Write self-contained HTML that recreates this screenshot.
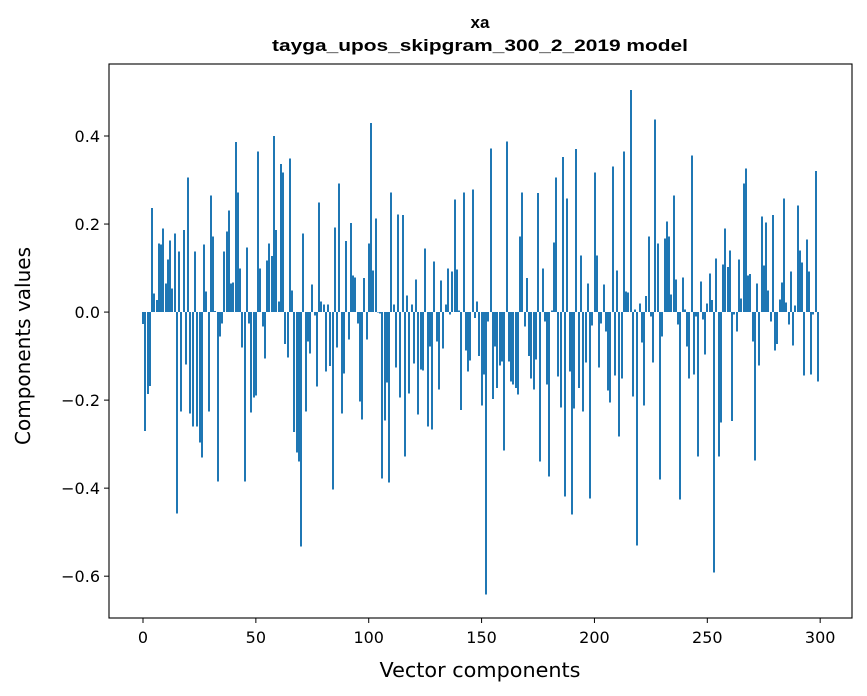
<!DOCTYPE html>
<html><head><meta charset="utf-8"><style>
body{margin:0;background:#fff;}
svg{display:block;font-family:"DejaVu Sans","Liberation Sans",sans-serif;}
.t{font-family:"Liberation Sans",Arial,sans-serif;font-weight:bold;}
</style></head><body>
<svg id="chart" width="867" height="696">
<text class="t" x="480" y="28" text-anchor="middle" font-size="17">xa</text>
<text class="t" x="480" y="51" text-anchor="middle" font-size="17" textLength="416" lengthAdjust="spacingAndGlyphs">tayga_upos_skipgram_300_2_2019 model</text>
<g id="bars" shape-rendering="crispEdges"></g>
<g id="axes"></g>
<text x="480" y="677" text-anchor="middle" font-size="20" textLength="201" lengthAdjust="spacingAndGlyphs">Vector components</text>
<text transform="translate(30,346) rotate(-90)" text-anchor="middle" font-size="20" textLength="198" lengthAdjust="spacingAndGlyphs">Components values</text>
</svg>
<script>
const values = [-0.027,-0.27,-0.186,-0.168,0.236,0.042,0.027,0.156,0.154,0.19,0.065,0.12,0.163,0.054,0.179,-0.458,0.138,-0.226,0.186,-0.119,0.306,-0.23,-0.26,0.138,-0.26,-0.296,-0.33,0.154,0.047,-0.226,0.265,0.172,0.002,-0.385,-0.055,-0.026,0.138,0.183,0.231,0.065,0.067,0.386,0.272,0.099,-0.08,-0.385,0.147,-0.026,-0.228,-0.194,-0.19,0.365,0.099,-0.033,-0.105,0.117,0.156,0.127,0.4,0.186,0.024,0.336,0.317,-0.073,-0.103,0.349,0.049,-0.273,-0.319,-0.339,-0.532,0.179,-0.226,-0.067,-0.094,
0.063,-0.008,-0.169,0.249,0.024,0.017,-0.135,0.017,-0.123,-0.403,0.192,-0.08,0.292,-0.23,-0.139,0.161,-0.062,0.202,0.083,0.079,-0.026,-0.203,-0.244,0.077,-0.062,0.156,0.429,0.095,0.213,0,-0.003,-0.378,-0.246,-0.16,-0.387,0.272,0.017,-0.126,0.222,-0.194,0.22,-0.328,0.038,-0.185,0.017,-0.117,0.074,-0.233,-0.13,-0.133,0.145,-0.26,-0.078,-0.267,0.115,-0.067,-0.176,0.072,-0.083,0.017,0.099,-0.005,0.092,0.256,0.097,0.004,-0.223,0.272,-0.087,-0.135,-0.11,0.279,-0.014,0.024,
-0.1,-0.212,-0.142,-0.642,-0.021,0.372,-0.198,-0.078,-0.173,-0.121,-0.112,-0.314,0.388,-0.112,-0.158,-0.164,-0.173,-0.187,0.172,0.272,-0.033,0.077,-0.1,-0.151,-0.176,-0.108,0.27,-0.339,0.099,-0.021,-0.164,-0.373,0.004,0.158,0.306,-0.146,-0.217,0.352,-0.419,0.258,-0.135,-0.46,-0.219,0.37,-0.173,0.129,-0.226,-0.114,0.065,-0.423,-0.03,0.317,0.129,-0.126,-0.026,0.063,-0.044,-0.178,-0.205,0.331,-0.144,0.095,-0.283,-0.151,0.365,0.047,0.045,0.504,-0.192,0.006,-0.53,0.02,-0.069,-0.212,
0.036,0.172,-0.01,-0.114,0.438,0.156,-0.38,-0.055,0.167,0.206,0.172,0.04,0.265,0.074,-0.028,-0.426,0.079,0.006,-0.078,-0.151,0.356,-0.142,-0.01,-0.328,0.07,-0.017,-0.096,0.02,0.088,0.027,-0.592,0.122,-0.328,-0.251,0.108,0.19,0.102,0.14,-0.248,-0.005,-0.044,0.12,0.031,0.292,0.326,0.083,0.086,-0.067,-0.337,0.065,-0.121,0.217,0.106,0.204,0.049,-0.021,0.22,-0.087,-0.073,0.029,0.067,0.258,0.022,-0.028,0.092,-0.076,0.015,0.242,0.14,0.113,-0.144,0.165,0.092,-0.142,-0.005,0.32,-0.158];
const xTicks = [0,50,100,150,200,250,300];
const yTicks = [-0.6,-0.4,-0.2,0.0,0.2,0.4];
const yTickLabels = ["\u22120.6","\u22120.4","\u22120.2","0.0","0.2","0.4"];

const L=109,R=852,T=64,B=618;
const xMin=-15.06,xMax=314.1,yMin=-0.695,yMax=0.5636;
function sx(v){return L+(v-xMin)/(xMax-xMin)*(R-L);}
function sy(v){return B-(v-yMin)/(yMax-yMin)*(B-T);}
const NS="http://www.w3.org/2000/svg";
const bars=document.getElementById('bars');
values.forEach((v,i)=>{
  const r=document.createElementNS(NS,'rect');
  const x0=Math.round(sx(i-0.4)),x1=Math.round(sx(i+0.4));
  const y0=sy(Math.max(v,0)),y1=sy(Math.min(v,0));
  r.setAttribute('x',x0);r.setAttribute('width',Math.max(x1-x0,2));
  r.setAttribute('y',y0);r.setAttribute('height',Math.max(y1-y0,0.5));
  r.setAttribute('fill','#1f77b4');
  
  
  bars.appendChild(r);
});
const axes=document.getElementById('axes');
const frame=document.createElementNS(NS,'rect');
frame.setAttribute('x',L);frame.setAttribute('y',T);frame.setAttribute('width',R-L);frame.setAttribute('height',B-T);
frame.setAttribute('fill','none');frame.setAttribute('stroke','#000');frame.setAttribute('stroke-width','1.1');


axes.appendChild(frame);
xTicks.forEach(t=>{
  const x=sx(t);
  const l=document.createElementNS(NS,'line');
  l.setAttribute('x1',x);l.setAttribute('x2',x);l.setAttribute('y1',B);l.setAttribute('y2',B+5);l.setAttribute('stroke','#000');
  
  
  axes.appendChild(l);
  const tx=document.createElementNS(NS,'text');
  tx.setAttribute('x',x);tx.setAttribute('y',B+25);tx.setAttribute('text-anchor','middle');tx.setAttribute('font-size','16');
  tx.textContent=t;
  
  
  axes.appendChild(tx);
});
yTicks.forEach((t,i)=>{
  const y=sy(t);
  const l=document.createElementNS(NS,'line');
  l.setAttribute('x1',L-5);l.setAttribute('x2',L);l.setAttribute('y1',y);l.setAttribute('y2',y);l.setAttribute('stroke','#000');
  
  
  axes.appendChild(l);
  const tx=document.createElementNS(NS,'text');
  tx.setAttribute('x',L-9);tx.setAttribute('y',y+6);tx.setAttribute('text-anchor','end');tx.setAttribute('font-size','16');
  tx.textContent=yTickLabels[i];
  
  
  axes.appendChild(tx);
});
</script>
</body></html>
